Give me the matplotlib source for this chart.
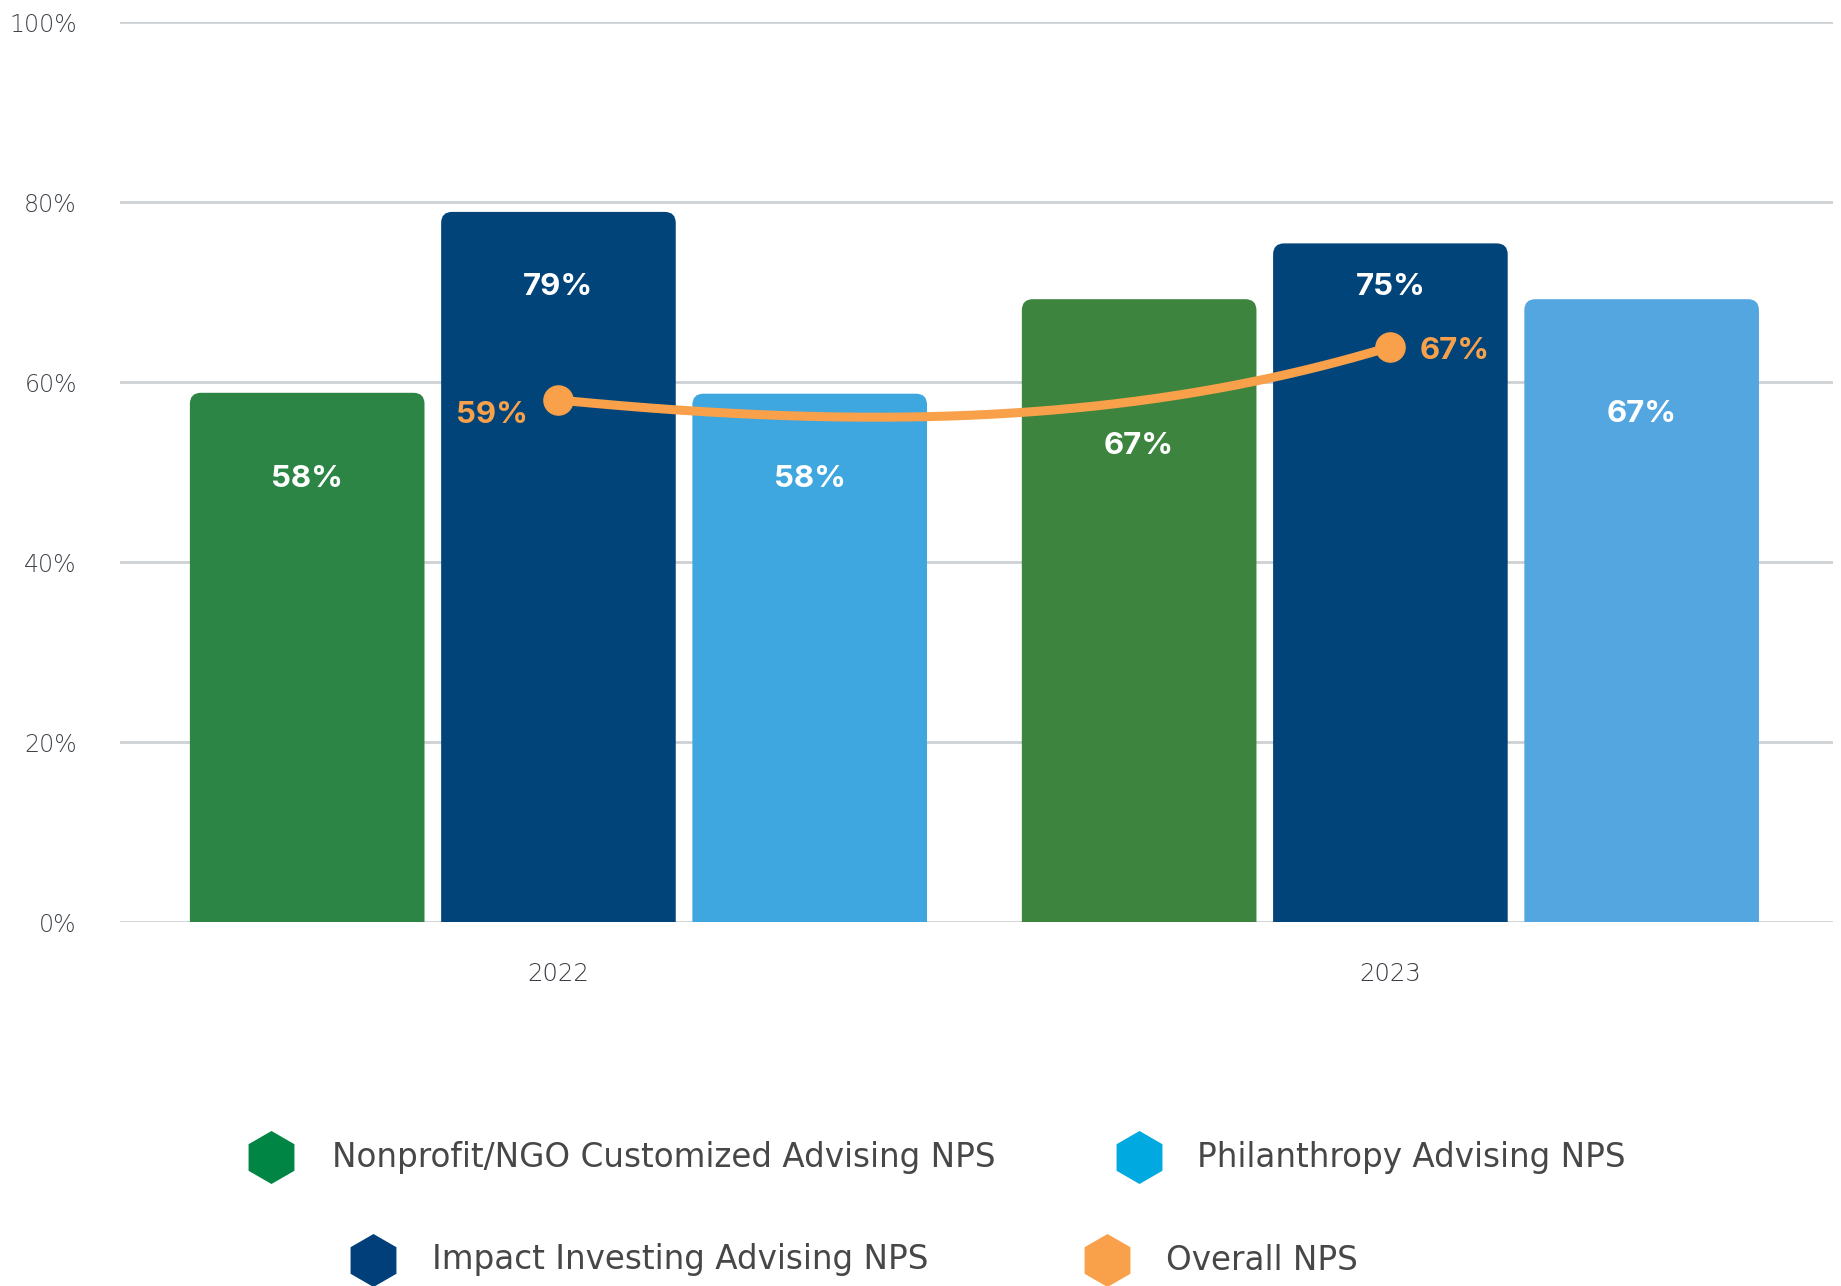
import numpy as np
import matplotlib
matplotlib.use("Agg")
import matplotlib.pyplot as plt
from matplotlib.patches import FancyBboxPatch
from matplotlib.lines import Line2D

plt.rcParams['font.family'] = ['Inter', 'DejaVu Sans']

# data
years = ['2022', '2023']
nonprofit = [58.8, 69.2]
impact = [78.9, 75.4]
philanthropy = [58.7, 69.2]
overall = [58.0, 63.9]

nonprofit_labels = ['58%', '67%']
impact_labels = ['79%', '75%']
philanthropy_labels = ['58%', '67%']
overall_labels = ['59%', '67%']

series_names = ['Nonprofit/NGO Customized Advising NPS', 'Impact Investing Advising NPS',
                'Philanthropy Advising NPS', 'Overall NPS']

# where the white value labels sit (data units), per series and year
label_y = [[49.2, 52.9], [70.6, 70.6], [49.2, 56.4]]

# tangents of the smoothed overall line at both ends (% per category)
spline_tangents = [-9.0, 28.0]

W, H = 1841, 1286
fig = plt.figure(figsize=(W / 100, H / 100), dpi=100)
ax = fig.add_axes([120 / W, (H - 922) / H, (1833 - 120) / W, 900 / H])

x = np.arange(len(years))
xmin, xmax = -0.527, 1.532
ax.set_xlim(xmin, xmax)
ax.set_ylim(0, 100)

light_font = ['DejaVu Sans']

ax.set_yticks(range(0, 101, 20))
ax.set_yticklabels([f'{v}%' for v in range(0, 101, 20)])
ax.yaxis.grid(True, color='#cdd1d4', linewidth=2)
ax.set_axisbelow(True)
for s in ax.spines.values():
    s.set_visible(False)
ax.tick_params(axis='y', length=0, pad=31, labelsize=17, labelcolor='#3f434a')
ax.tick_params(axis='x', length=0, pad=29, labelsize=17.5, labelcolor='#3a3e44')
ax.set_xticks(x)
ax.set_xticklabels(years)
for lab in ax.get_yticklabels() + ax.get_xticklabels():
    lab.set_family(light_font)
    lab.set_fontweight('light')

bar_w = 0.282
step = 0.302
bar_colors = [['#2c8545', '#3d843f'], ['#00447a', '#00447a'], ['#3ea7df', '#54a6e0']]
values = [nonprofit, impact, philanthropy]
labels = [nonprofit_labels, impact_labels, philanthropy_labels]

# rounded top corners
px_per_x = (1833 - 120) / (xmax - xmin)
px_per_y = 900 / 100
r_px = 11
r_x = r_px / px_per_x
aspect = px_per_x / px_per_y

for i, vals in enumerate(values):
    rects = ax.bar(x + (i - 1) * step, vals, width=bar_w, color=bar_colors[i])
    for j, rect in enumerate(rects):
        rect.set_visible(False)
        p = FancyBboxPatch((rect.get_x(), -5), rect.get_width(), rect.get_height() + 5,
                           boxstyle=f"round,pad=0,rounding_size={r_x}",
                           mutation_aspect=aspect, facecolor=bar_colors[i][j],
                           edgecolor='none', zorder=2)
        ax.add_patch(p)
        ax.text(rect.get_x() + rect.get_width() / 2, label_y[i][j], labels[i][j],
                ha='center', va='center', color='white', fontsize=22.5,
                fontweight='bold', zorder=5)

# smoothed overall line between the two yearly points
orange = '#f9a04a'
t = np.linspace(0, 1, 200)
h00 = 2 * t**3 - 3 * t**2 + 1
h10 = t**3 - 2 * t**2 + t
h01 = -2 * t**3 + 3 * t**2
h11 = t**3 - t**2
curve = h00 * overall[0] + h10 * spline_tangents[0] + h01 * overall[1] + h11 * spline_tangents[1]
ax.plot(x[0] + t * (x[1] - x[0]), curve, color=orange, lw=6.5, solid_capstyle='round', zorder=3)
ax.plot(x, overall, 'o', color=orange, ms=21, zorder=4)

ax.annotate(overall_labels[0], (x[0], overall[0]), xytext=(-22, -11),
            textcoords='offset points', ha='right', va='center',
            color=orange, fontsize=22.5, fontweight='bold', zorder=5)
ax.annotate(overall_labels[1], (x[1], overall[1]), xytext=(21, -3),
            textcoords='offset points', ha='left', va='center',
            color=orange, fontsize=22.5, fontweight='bold', zorder=5)

# legend with hexagon markers
legend_colors = ['#008544', '#003f7a', '#00a9e0', '#f9a04a']
legend_pos = [(271, 332, 1157), (373, 432, 1260), (1139, 1197, 1157), (1107, 1166, 1260)]
for name, col, (mx, tx, y) in zip(series_names, legend_colors, legend_pos):
    fig.add_artist(Line2D([mx / W], [1 - y / H], marker='h', markersize=37,
                          color=col, linestyle='none', transform=fig.transFigure))
    fig.text(tx / W, 1 - y / H, name, ha='left', va='center', fontsize=23.5,
             color='#474747', family=light_font)

fig.savefig('out.png', dpi=100)
